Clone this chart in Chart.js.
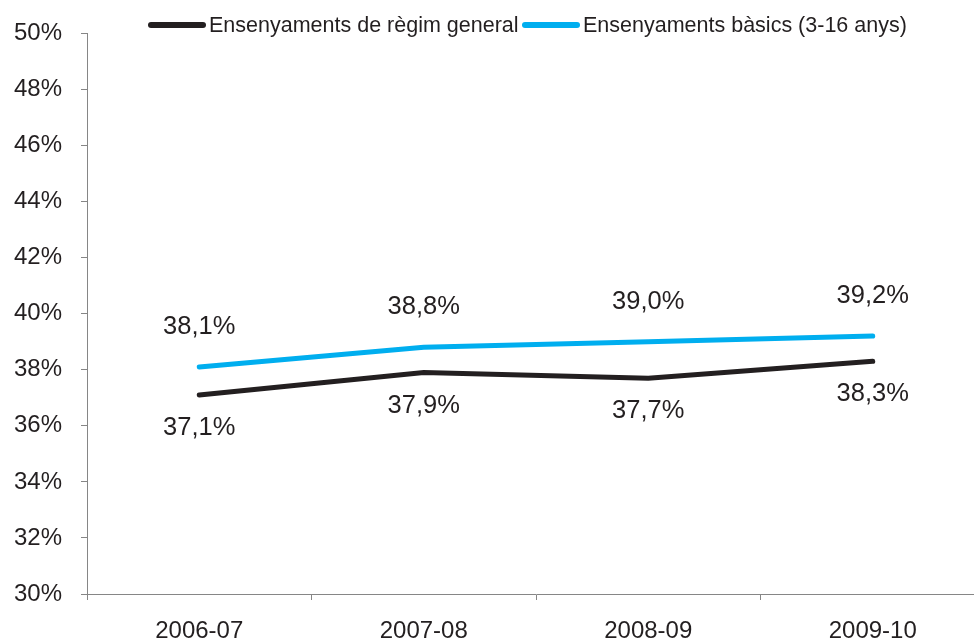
<!DOCTYPE html>
<html>
<head>
<meta charset="utf-8">
<script src="https://cdn.jsdelivr.net/npm/chart.js@4"></script>
<style>
  html, body { margin: 0; padding: 0; background: #fff; overflow: hidden; }
  #wrap { width: 974px; height: 639px; overflow: hidden; }
</style>
</head>
<body>
<div id="wrap"><canvas id="grafica" width="1000" height="639"></canvas></div>
<script>
// Cursos i percentatges
var cursos = ['2006-07', '2007-08', '2008-09', '2009-10'];
var regimGeneral = [37.1, 37.9, 37.7, 38.3];
var basics = [38.1, 38.8, 39.0, 39.2];
var etiquetesSeries = ['Ensenyaments de règim general', 'Ensenyaments bàsics (3-16 anys)'];
var colors = ['#231f20', '#00aeef'];

var FONT = '"Liberation Sans", Arial, sans-serif';
var GRIS = '#868686';

function formatPct(v) {
    return v.toFixed(1).replace('.', ',') + '%';
}

// Etiquetes de valor: negre a sota, blau a sobre
var etiquetesPlugin = {
    id: 'etiquetes',
    afterDatasetsDraw: function (chart) {
        var ctx = chart.ctx;
        ctx.save();
        ctx.font = '25.5px ' + FONT;
        ctx.fillStyle = '#231f20';
        ctx.textAlign = 'center';
        ctx.textBaseline = 'middle';
        chart.data.datasets.forEach(function (ds, i) {
            var meta = chart.getDatasetMeta(i);
            meta.data.forEach(function (pt, j) {
                var dy = i === 0 ? 33 : -40;
                ctx.fillText(formatPct(ds.data[j]), pt.x, pt.y + dy);
            });
        });
        ctx.restore();
    }
};

// Llegenda dibuixada a mà
var llegendaPlugin = {
    id: 'llegenda',
    afterDraw: function (chart) {
        var ctx = chart.ctx;
        var items = [{ x: 148 }, { x: 522 }];
        ctx.save();
        ctx.font = '21.5px ' + FONT;
        ctx.textBaseline = 'middle';
        ctx.lineCap = 'round';
        chart.data.datasets.forEach(function (ds, i) {
            var x = items[i].x;
            var y = 25;
            ctx.strokeStyle = ds.borderColor;
            ctx.lineWidth = 6;
            ctx.beginPath();
            ctx.moveTo(x + 3, y);
            ctx.lineTo(x + 55, y);
            ctx.stroke();
            ctx.fillStyle = '#231f20';
            ctx.fillText(ds.label, x + 61, y + 1);
        });
        ctx.restore();
    }
};

new Chart(document.getElementById('grafica'), {
    type: 'line',
    data: {
        labels: cursos,
        datasets: [{
            label: etiquetesSeries[0],
            data: regimGeneral,
            borderColor: colors[0],
            borderWidth: 5,
            pointRadius: 0,
            borderCapStyle: 'round',
            tension: 0
        }, {
            label: etiquetesSeries[1],
            data: basics,
            borderColor: colors[1],
            borderWidth: 5,
            pointRadius: 0,
            borderCapStyle: 'round',
            tension: 0
        }]
    },
    options: {
        responsive: false,
        animation: false,
        layout: { padding: { top: 32, left: 0, right: 15, bottom: 0 } },
        plugins: {
            legend: { display: false },
            tooltip: { enabled: false }
        },
        scales: {
            x: {
                offset: true,
                grid: {
                    offset: true,
                    drawOnChartArea: false,
                    drawTicks: true,
                    tickLength: 6,
                    color: GRIS
                },
                border: { display: true, color: GRIS, width: 1 },
                ticks: {
                    color: '#231f20',
                    font: { family: FONT, size: 24 },
                    padding: 17,
                    maxRotation: 0
                },
                afterFit: function (scale) { scale.height = 45; }
            },
            y: {
                min: 30,
                max: 50,
                grid: {
                    drawOnChartArea: false,
                    drawTicks: true,
                    tickLength: 6,
                    color: GRIS
                },
                border: { display: true, color: GRIS, width: 1 },
                ticks: {
                    stepSize: 2,
                    color: '#231f20',
                    font: { family: FONT, size: 24 },
                    padding: 19,
                    callback: function (v) { return v + '%'; }
                },
                afterFit: function (scale) { scale.width = 87; }
            }
        }
    },
    plugins: [etiquetesPlugin, llegendaPlugin]
});
</script>
</body>
</html>
